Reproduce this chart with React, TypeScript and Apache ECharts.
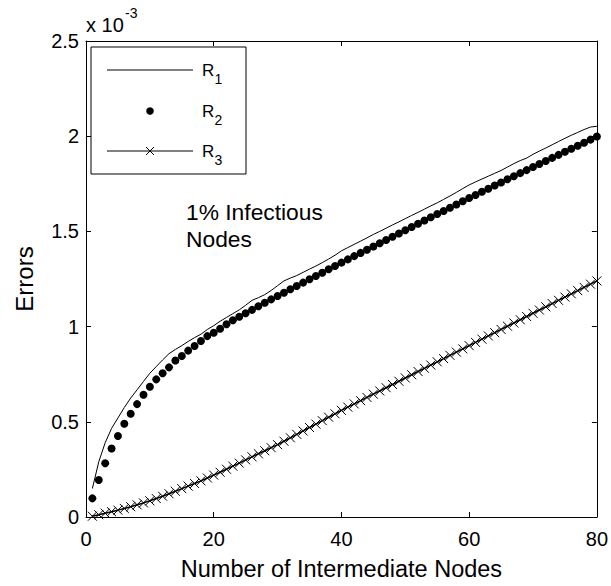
import React, { useEffect, useRef } from 'react';
import * as echarts from 'echarts';

// Number of intermediate nodes (x) and errors in units of 1e-3 (y)
const nodeCounts: number[] = Array.from({ length: 80 }, (_, i) => i + 1);

const r1Errors: number[] = [
  0.150, 0.290, 0.390, 0.465, 0.520, 0.575, 0.625, 0.668, 0.712, 0.755,
  0.790, 0.825, 0.858, 0.880, 0.900, 0.922, 0.942, 0.960, 0.985, 1.005,
  1.028, 1.048, 1.068, 1.088, 1.112, 1.138, 1.152, 1.168, 1.190, 1.215,
  1.240, 1.255, 1.268, 1.285, 1.302, 1.318, 1.336, 1.355, 1.375, 1.398,
  1.415, 1.432, 1.449, 1.466, 1.484, 1.500, 1.517, 1.534, 1.550, 1.567,
  1.584, 1.600, 1.617, 1.634, 1.650, 1.668, 1.686, 1.705, 1.725, 1.744,
  1.760, 1.775, 1.790, 1.805, 1.820, 1.838, 1.856, 1.872, 1.885, 1.905,
  1.922, 1.938, 1.955, 1.972, 1.989, 2.005, 2.020, 2.035, 2.048, 2.052,
];

const r2Errors: number[] = [
  0.098, 0.194, 0.282, 0.360, 0.425, 0.490, 0.542, 0.593, 0.642, 0.684,
  0.723, 0.755, 0.786, 0.822, 0.846, 0.874, 0.898, 0.924, 0.950, 0.968,
  0.989, 1.012, 1.033, 1.052, 1.070, 1.088, 1.107, 1.125, 1.143, 1.161,
  1.178, 1.196, 1.213, 1.231, 1.249, 1.266, 1.283, 1.301, 1.318, 1.336,
  1.353, 1.370, 1.387, 1.404, 1.421, 1.438, 1.455, 1.472, 1.489, 1.506,
  1.523, 1.540, 1.557, 1.574, 1.591, 1.607, 1.624, 1.641, 1.658, 1.675,
  1.691, 1.708, 1.724, 1.741, 1.757, 1.774, 1.790, 1.806, 1.822, 1.838,
  1.854, 1.870, 1.886, 1.902, 1.918, 1.934, 1.950, 1.966, 1.982, 1.998,
];

const r3Errors: number[] = [
  0.004, 0.012, 0.020, 0.028, 0.036, 0.045, 0.054, 0.064, 0.074, 0.085,
  0.097, 0.109, 0.122, 0.135, 0.149, 0.162, 0.176, 0.190, 0.205, 0.220,
  0.235, 0.251, 0.267, 0.283, 0.300, 0.316, 0.332, 0.348, 0.364, 0.380,
  0.398, 0.416, 0.434, 0.452, 0.470, 0.488, 0.506, 0.524, 0.542, 0.560,
  0.577, 0.594, 0.611, 0.628, 0.645, 0.662, 0.679, 0.696, 0.713, 0.730,
  0.747, 0.764, 0.781, 0.798, 0.815, 0.832, 0.849, 0.866, 0.883, 0.900,
  0.917, 0.934, 0.951, 0.968, 0.985, 1.002, 1.019, 1.036, 1.053, 1.070,
  1.087, 1.104, 1.121, 1.138, 1.155, 1.172, 1.189, 1.206, 1.223, 1.240,
];

const seriesNames = ['R1', 'R2', 'R3'];
const legendLetters = ['R', 'R', 'R'];
const legendSubs = ['1', '2', '3'];
const xAxisTitle = 'Number of Intermediate Nodes';
const yAxisTitle = 'Errors';
const annotation = '1% Infectious\nNodes';
const scaleBase = 'x 10';
const scaleExp = '-3';

const FONT = '"Liberation Sans", Arial, Helvetica, sans-serif';
const X_MARK = 'path://M0,0L10,10M10,0L0,10';

const pairs = (ys: number[]) => ys.map((y, i) => [nodeCounts[i], y]);

export default function App() {
  const ref = useRef<HTMLDivElement>(null);
  useEffect(() => {
    if (!ref.current) return;
    const chart = echarts.init(ref.current, null, { renderer: 'svg' });
    const axisLine = { show: true, onZero: false, lineStyle: { color: '#000', width: 1 } };
    const axisTick = { show: true, inside: true, length: 5, lineStyle: { color: '#000', width: 1 } };

    // legend (drawn as graphics, MATLAB style)
    const lgX = 91, lgY = 47, lgW = 155, lgH = 127;
    const rowY = [70, 111, 151];
    const sampleX0 = 107, sampleX1 = 193, sampleMid = 150;
    const textX = 202;
    const legendEls: any[] = [
      {
        type: 'rect', shape: { x: lgX, y: lgY, width: lgW, height: lgH }, z: 20,
        style: { fill: '#fff', stroke: '#000', lineWidth: 1 },
      },
      { type: 'line', z: 21, shape: { x1: sampleX0, y1: rowY[0], x2: sampleX1, y2: rowY[0] }, style: { stroke: '#000', lineWidth: 1 } },
      { type: 'circle', z: 21, shape: { cx: sampleMid, cy: rowY[1], r: 3.8 }, style: { fill: '#000' } },
      { type: 'line', z: 21, shape: { x1: sampleX0, y1: rowY[2], x2: sampleX1, y2: rowY[2] }, style: { stroke: '#000', lineWidth: 1 } },
      { type: 'line', z: 21, shape: { x1: sampleMid - 4, y1: rowY[2] - 4, x2: sampleMid + 4, y2: rowY[2] + 4 }, style: { stroke: '#000', lineWidth: 1 } },
      { type: 'line', z: 21, shape: { x1: sampleMid - 4, y1: rowY[2] + 4, x2: sampleMid + 4, y2: rowY[2] - 4 }, style: { stroke: '#000', lineWidth: 1 } },
    ];
    seriesNames.forEach((_, i) => {
      legendEls.push({
        type: 'text', z: 22, x: textX, y: rowY[i],
        style: { text: legendLetters[i], fontSize: 17, fill: '#000', fontFamily: FONT, verticalAlign: 'middle', align: 'left' },
      });
      legendEls.push({
        type: 'text', z: 22, x: textX + 12.5, y: rowY[i] + 9,
        style: { text: legendSubs[i], fontSize: 14, fill: '#000', fontFamily: FONT, verticalAlign: 'middle', align: 'left' },
      });
    });

    chart.setOption({
      animation: false,
      backgroundColor: '#fff',
      textStyle: { fontFamily: FONT },
      grid: { left: 86, top: 41, width: 511, height: 476, containLabel: false },
      xAxis: [
        {
          type: 'value', min: 0, max: 80, interval: 20, position: 'bottom',
          axisLine, axisTick,
          axisLabel: { color: '#000', fontSize: 20, fontFamily: FONT, margin: 12 },
          splitLine: { show: false },
          name: xAxisTitle, nameLocation: 'middle', nameGap: 40,
          nameTextStyle: { color: '#000', fontSize: 23.5, fontFamily: FONT },
        },
        {
          type: 'value', min: 0, max: 80, interval: 20, position: 'top',
          axisLine, axisTick, axisLabel: { show: false }, splitLine: { show: false },
        },
      ],
      yAxis: [
        {
          type: 'value', min: 0, max: 2.5, interval: 0.5, position: 'left',
          axisLine, axisTick,
          axisLabel: { color: '#000', fontSize: 20, fontFamily: FONT, margin: 7 },
          splitLine: { show: false },
          name: yAxisTitle, nameLocation: 'middle', nameGap: 50,
          nameTextStyle: { color: '#000', fontSize: 24, fontFamily: FONT },
        },
        {
          type: 'value', min: 0, max: 2.5, interval: 0.5, position: 'right',
          axisLine, axisTick, axisLabel: { show: false }, splitLine: { show: false },
        },
      ],
      graphic: [
        {
          type: 'text', x: 86, y: 25, z: 10,
          style: { text: scaleBase, fontSize: 20, fill: '#000', fontFamily: FONT, verticalAlign: 'middle', align: 'left' },
        },
        {
          type: 'text', x: 125, y: 13, z: 10,
          style: { text: scaleExp, fontSize: 14, fill: '#000', fontFamily: FONT, verticalAlign: 'middle', align: 'left' },
        },
        {
          type: 'text', left: 186, top: 198.5, z: 10,
          style: { text: annotation, fontSize: 22.8, lineHeight: 27, fill: '#000', fontFamily: FONT },
        },
        ...legendEls,
      ],
      series: [
        {
          name: seriesNames[0], type: 'line', data: pairs(r1Errors),
          showSymbol: false, symbol: 'none',
          lineStyle: { color: '#000', width: 1 }, itemStyle: { color: '#000' },
        },
        {
          name: seriesNames[1], type: 'scatter', data: pairs(r2Errors),
          symbol: 'circle', symbolSize: 8, itemStyle: { color: '#000', opacity: 1 },
        },
        {
          name: seriesNames[2], type: 'line', data: pairs(r3Errors),
          symbol: X_MARK, symbolSize: 9, showSymbol: true,
          lineStyle: { color: '#000', width: 1.5 },
          itemStyle: { color: 'transparent', borderColor: '#000', borderWidth: 1, opacity: 1 },
        },
      ],
    });
    return () => chart.dispose();
  }, []);
  return (
    <div
      ref={ref}
      style={{ position: 'fixed', left: 0, top: 0, width: 611, height: 586, background: '#fff' }}
    />
  );
}
